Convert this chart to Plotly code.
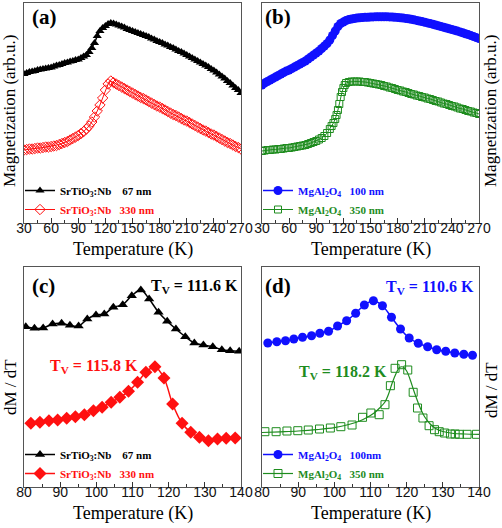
import plotly.graph_objects as go

# ---------------- data ----------------
# (a) M(T), SrTiO3:Nb substrates
T_a = [30,33,36,39,42,45,48,51,54,57,60,63,66,69,72,75,78,81,84,87,90,93,96,99,102,105,108,111,114,117,
       120,123,126,129,132,135,138,141,144,147,150,153,156,159,162,165,168,171,174,177,180,183,186,189,192,
       195,198,201,204,207,210,213,216,219,222,225,228,231,234,237,240,243,246,249,252,255,258,261,264,267,270]
M_sto67 = [149,150,151,151.5,152,153,153.5,154,154.5,155,155.5,156.5,157.5,158,159,160,160.5,161.5,162,163,
           163.5,165,166.5,168,171,175,180,187,192,195,197,199,200,199.5,198.5,197.5,196.5,195.5,194,193,
           192,191,190,189,188,187,186,184.5,183.5,182,181,180,178.5,177.5,176,175,173.5,172,171,169.5,
           168,166.5,165,163.5,162,160.5,159,157.5,156,154,152.5,150.5,148.5,146.5,144.5,142,140,137.5,135,133,130]
M_sto330 = [73,73.5,74,74,74.5,75,75,75.5,76,76,76.5,77,77.5,78.5,79.5,80.5,81.5,83,84.5,86,
            87.5,89.5,91.5,94,97,101,106,112,118,125,133,139,142,140.5,139,137.5,136,134.5,133,131.5,
            130,128.5,127,125.5,124.5,123,121.5,120,118.5,117,116,114.5,113,111.5,110,108.5,107.5,106,104.5,103,
            102,100.5,99,97.5,96,94.5,93,92,90.5,89,88,86.5,85,83.5,82,80.5,79.5,78,76.5,75.5,74]

# (b) M(T), MgAl2O4 substrates
T_b100 = T_a
M_mao100 = [138,140,141.5,143,144.5,146,147.5,149,150.5,152,153,154.5,156,157.5,159,160.5,162,164,166,168,
            170,172,174.5,177,179.5,183,187.5,192,196.5,199.5,201,202.5,203.5,204,204.5,205,205.3,205.5,205.7,205.8,
            206,206.1,206.2,206.3,206.3,206.3,206.2,206.1,206,205.8,205.6,205.3,205,204.6,204.2,203.7,203.2,202.6,202,201.4,
            200.8,200.1,199.4,198.7,198,197.2,196.4,195.8,195,194.2,193.4,192.7,191.9,191.1,190.2,189.3,188.4,187.4,186.4,185.4,184.4]
T_b350 = [30,33,36,39,42,45,48,51,54,57,60,63,66,69,72,75,78,81,84,87,90,93,96,99,102,105,107,109,111,112.5,
          114,115.5,117,118.5,120,121.5,123,126,129,132,135,138,141,144,147,150,153,156,159,162,165,168,171,174,177,
          180,183,186,189,192,195,198,201,204,207,210,213,216,219,222,225,228,231,234,237,240,243,246,249,252,
          255,258,261,264,267,270]
M_mao350 = [72,72.5,73,73,73.5,73.5,74,74,74.5,75,75,75.5,76,76.5,77,77.5,78,79,80,81,82,83.5,85,87,90,94,97,100,104,108,
            113,119,126,131,135,138,140,141,141.5,141.5,141.5,141.5,141,141,140.5,140,139.5,139,138.5,138,137,136.5,135.5,135,134,
            133,132.5,131.5,131,130,129,128.5,127.5,127,126,125.5,124.5,124,123,122,121.5,120.5,119.5,119,118,117,116.5,115.5,114.5,114,
            113,112,111.5,110.5,110,109]

# (c) dM/dT, SrTiO3:Nb
T_c67 = [80.5,82.9,85.3,87.9,90.4,92.7,95.1,97.5,99.9,102.2,104.7,107.3,109.8,112.3,114.6,117.2,119.6,122.0,124.6,127.1,
         129.6,132.2,134.7,137.0,139.5]
D_c67 = [160.3,158.7,159,163,163.7,161.7,161,168,172,173,179.7,182.3,191.3,197,188,174.7,165.7,158,150.3,144,
         142,140.3,137.3,136.3,135.7]
T_c330 = [81.9,84.4,86.9,89.3,91.8,94.2,96.7,99.2,101.6,104.1,106.5,108.9,111.4,113.7,116.2,118.7,121.1,123.7,126.1,128.5,
          131.0,133.5,135.9,138.4]
D_c330 = [63.7,64.7,66.3,67,68.7,70.3,72.3,76.3,79.7,84.7,89.7,95.7,104.7,114.7,120.3,109,83,63.7,54.7,49.7,
          46.3,48,48.7,49]

# (d) dM/dT, MgAl2O4
T_d100 = [81.6,84.1,86.5,88.8,91.2,93.7,96.0,98.4,100.9,103.4,105.9,108.3,110.8,113.3,115.8,118.3,120.7,123.2,125.8,128.3,
          130.8,133.3,135.8,138.2]
D_d100 = [144,145.3,146.3,148,149.7,151.3,153.7,155.7,161,166.3,173.7,182,186.3,181.3,169.7,158,149,143.7,140.3,137.3,
          135.7,134,132.7,131.7]
T_d350 = [80.8,83.9,86.9,89.9,92.8,95.9,98.9,101.8,104.9,107.8,110.1,112.4,114.0,115.5,116.8,118.6,120.3,121.8,123.0,124.5,
          126.2,127.7,129.0,130.5,132.1,133.4,134.6,136.7,139.3]
D_d350 = [55.3,55.3,56,56.3,57,58,59,60.3,62,69.7,74,72.3,82.3,101.3,118.7,122.3,117,94.7,79,69,
          61.3,57.3,55.3,54,53,53,52.7,52.7,52.7]
T_d350_fit = [80,85,90,95,100,104,107,109,111,112.5,114,115,116,117,118,119,120,121,122,123,124,125,126.5,128,130,133,136,140]
D_d350_fit = [54.5,55.2,56,57.3,59.3,62.5,66,69.5,74,79,85,93,104,113,119.5,120,116,107,96,86,77,70,63,58.5,55.5,53.5,53,52.7]

x_ticks_top = [30,60,90,120,150,180,210,240,270]
x_ticks_bot = [80,90,100,110,120,130,140]

# ---------------- styles ----------------
SERIF = "Liberation Serif"
SANS = "Liberation Sans"
BLACK = "#000000"
RED = "#ff1010"
BLUE = "#1010ff"
GREEN = "#1e8c1e"
W, H = 502, 528

def px(v, total):
    return v / total

fig = go.Figure()

def nm(text, color):
    return f"<span style='color:{color}'>{text}</span>"

sto67 = "SrTiO<sub>3</sub>:Nb\u00a0\u00a0\u00a0\u00a067 nm"
sto330 = "SrTiO<sub>3</sub>:Nb\u00a0\u00a0\u00a0330 nm"
mao100 = "MgAl<sub>2</sub>O<sub>4</sub>\u00a0\u00a0\u00a0100 nm"
mao100b = "MgAl<sub>2</sub>O<sub>4</sub>\u00a0\u00a0\u00a0100nm"
mao350 = "MgAl<sub>2</sub>O<sub>4</sub>\u00a0\u00a0\u00a0350 nm"

# (a)
fig.add_trace(go.Scatter(x=T_a, y=M_sto67, mode="lines+markers", name=nm(sto67, BLACK),
                         line=dict(color=BLACK, width=1.5),
                         marker=dict(symbol="triangle-up", size=8, color=BLACK),
                         xaxis="x", yaxis="y", legend="legend"))
fig.add_trace(go.Scatter(x=T_a, y=M_sto330, mode="lines+markers", name=nm(sto330, RED),
                         line=dict(color=RED, width=1),
                         marker=dict(symbol="diamond-open", size=8, color=RED, line=dict(width=1)),
                         xaxis="x", yaxis="y", legend="legend"))
# (b)
fig.add_trace(go.Scatter(x=T_b100, y=M_mao100, mode="lines+markers", name=nm(mao100, BLUE),
                         line=dict(color=BLUE, width=1.5),
                         marker=dict(symbol="circle", size=9, color=BLUE),
                         xaxis="x2", yaxis="y2", legend="legend2"))
fig.add_trace(go.Scatter(x=T_b350, y=M_mao350, mode="lines+markers", name=nm(mao350, GREEN),
                         line=dict(color=GREEN, width=1),
                         marker=dict(symbol="square-open", size=7, color=GREEN, line=dict(width=1)),
                         xaxis="x2", yaxis="y2", legend="legend2"))
# (c)
fig.add_trace(go.Scatter(x=T_c67, y=D_c67, mode="lines+markers", name=nm(sto67, BLACK),
                         line=dict(color=BLACK, width=1.5, shape="spline", smoothing=1),
                         marker=dict(symbol="triangle-up", size=9, color=BLACK),
                         xaxis="x3", yaxis="y3", legend="legend3"))
fig.add_trace(go.Scatter(x=T_c330, y=D_c330, mode="lines+markers", name=nm(sto330, RED),
                         line=dict(color=RED, width=1.5, shape="spline", smoothing=1),
                         marker=dict(symbol="diamond", size=10, color=RED),
                         xaxis="x3", yaxis="y3", legend="legend3"))
# (d)
fig.add_trace(go.Scatter(x=T_d100, y=D_d100, mode="lines+markers", name=nm(mao100b, BLUE),
                         line=dict(color=BLUE, width=1.5, shape="spline", smoothing=1),
                         marker=dict(symbol="circle", size=9, color=BLUE),
                         xaxis="x4", yaxis="y4", legend="legend4"))
fig.add_trace(go.Scatter(x=T_d350_fit, y=D_d350_fit, mode="lines", showlegend=False,
                         line=dict(color=GREEN, width=1.2, shape="spline", smoothing=1),
                         xaxis="x4", yaxis="y4"))
fig.add_trace(go.Scatter(x=T_d350, y=D_d350, mode="markers", showlegend=False,
                         marker=dict(symbol="square-open", size=8, color=GREEN, line=dict(width=1)),
                         xaxis="x4", yaxis="y4"))
# legend entry for the green data + fit (no data of its own)
fig.add_trace(go.Scatter(x=[None], y=[None], mode="lines+markers", name=nm(mao350, GREEN),
                         line=dict(color=GREEN, width=1.2),
                         marker=dict(symbol="square-open", size=8, color=GREEN, line=dict(width=1)),
                         xaxis="x4", yaxis="y4", legend="legend4"))

# domains from pixel frame positions
xdomA = [px(24, W), px(241, W)]
xdomB = [px(262, W), px(479, W)]
ydomTop = [1 - px(223, H), 1 - px(3, H)]
ydomBot = [1 - px(487, H), 1 - px(267, H)]

def xax(dom, rng, ticks, minor_step, anchor):
    return dict(domain=dom, range=rng, tickvals=ticks, ticks="inside", ticklen=5, tickwidth=1,
                tickcolor="#333", showline=True, linecolor="#555", linewidth=1, mirror=True,
                showgrid=False, zeroline=False, anchor=anchor, ticklabelstandoff=-8,
                tickfont=dict(family=SANS, size=14, color="#111"),
                minor=dict(dtick=minor_step, ticks="inside", ticklen=3, tickcolor="#333", showgrid=False),
                automargin=False)

def yax(dom, anchor):
    return dict(domain=dom, range=[0, 220], showticklabels=False, ticks="", showline=True,
                linecolor="#555", linewidth=1, mirror=True, showgrid=False, zeroline=False,
                anchor=anchor, automargin=False)

fig.update_layout(
    width=W, height=H, margin=dict(l=0, r=0, t=0, b=0),
    paper_bgcolor="white", plot_bgcolor="white",
    xaxis=xax(xdomA, [30, 270], x_ticks_top, 15, "y"),
    yaxis=yax(ydomTop, "x"),
    xaxis2=xax(xdomB, [30, 270], x_ticks_top, 15, "y2"),
    yaxis2=yax(ydomTop, "x2"),
    xaxis3=xax(xdomA, [80, 140], x_ticks_bot, 5, "y3"),
    yaxis3=yax(ydomBot, "x3"),
    xaxis4=xax(xdomB, [80, 140], x_ticks_bot, 5, "y4"),
    yaxis4=yax(ydomBot, "x4"),
    showlegend=True,
)

def leg(x, y):
    return dict(x=x, y=y, xanchor="left", yanchor="top", bgcolor="rgba(0,0,0,0)",
                font=dict(family=SERIF, size=11, weight="bold"), tracegroupgap=0,
                itemwidth=30)

fig.update_layout(legend=leg(px(20, W), 1 - px(176, H)),
                  legend2=leg(px(258, W), 1 - px(176, H)),
                  legend3=leg(px(20, W), 1 - px(440, H)),
                  legend4=leg(px(258, W), 1 - px(440, H)))

ann = []
def A(text, x, y, size, color=BLACK, bold=False, angle=0, xanchor="center", family=SERIF):
    t = f"<b>{text}</b>" if bold else text
    ann.append(dict(text=t, x=px(x, W), y=1 - px(y, H), xref="paper", yref="paper",
                    xanchor=xanchor, yanchor="middle", showarrow=False, textangle=angle,
                    font=dict(family=family, size=size, color=color)))

A("(a)", 30, 17, 21, bold=True, xanchor="left")
A("(b)", 263, 17, 21, bold=True, xanchor="left")
A("(c)", 30, 286, 21, bold=True, xanchor="left")
A("(d)", 263, 286, 21, bold=True, xanchor="left")
A("T<sub>V</sub> = 111.6 K", 194, 286, 16, bold=True)
A("T<sub>V</sub> = 115.8 K", 94, 366, 16, color=RED, bold=True)
A("T<sub>V</sub> = 110.6 K", 430, 287, 16, color=BLUE, bold=True)
A("T<sub>V</sub> = 118.2 K", 343, 372, 16, color=GREEN, bold=True)
A("Temperature (K)", 132.5, 249, 18)
A("Temperature (K)", 370.5, 249, 18)
A("Temperature (K)", 132.5, 513, 18)
A("Temperature (K)", 370.5, 513, 18)
A("Magnetization (arb.u.)", 10, 111, 17, angle=-90)
A("Magnetization (arb.u.)", 491, 111, 17, angle=-90)
A("dM / dT", 10, 387, 17, angle=-90)
A("dM / dT", 491, 390, 17, angle=-90)
fig.update_layout(annotations=ann)

fig.write_html("out.html")
